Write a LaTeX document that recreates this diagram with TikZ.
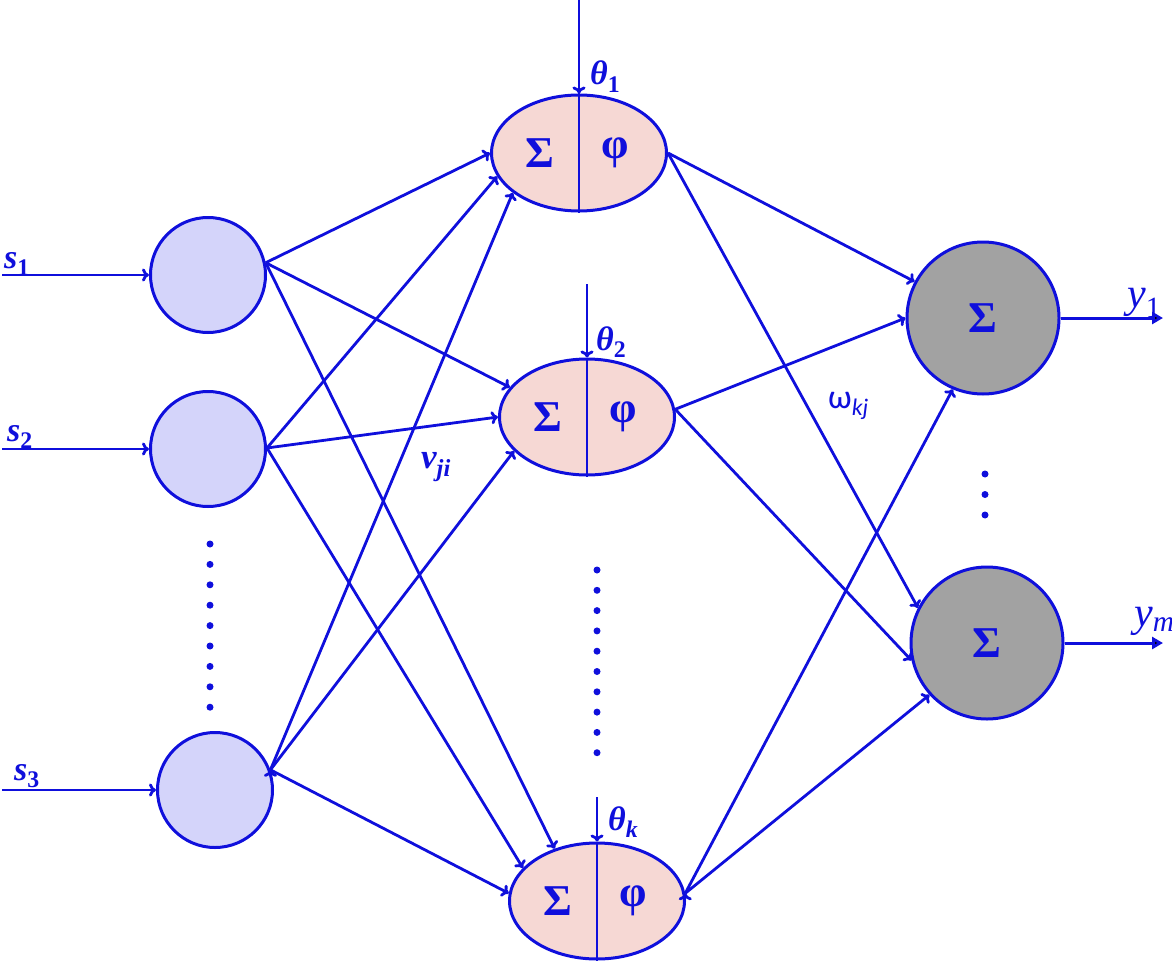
\documentclass[tikz,border=0pt]{standalone}
\usepackage{fontspec}
\setmainfont{Liberation Serif}
\newfontfamily\calfont{Carlito}
\usetikzlibrary{shapes.geometric, arrows.meta, positioning}

\definecolor{netblue}{RGB}{15,15,220}
\definecolor{infill}{RGB}{212,212,250}
\definecolor{hidfill}{RGB}{246,216,212}
\definecolor{outfill}{RGB}{162,162,162}

\tikzset{
	input/.style={circle, draw=netblue, line width=3pt, fill=infill, minimum size=115pt, inner sep=0pt},
	hidden/.style={ellipse, draw=netblue, line width=3pt, fill=hidfill, minimum width=175pt, minimum height=116pt, inner sep=0pt},
	output/.style={circle, draw=netblue, line width=3pt, fill=outfill, minimum size=152pt, inner sep=0pt, text=netblue, font=\fontsize{44}{44}\selectfont\bfseries},
	wire/.style={draw=netblue, line width=2.8pt, -{To[length=7pt,width=13pt]}},
	outwire/.style={draw=netblue, line width=3pt, -{Triangle[length=11pt,width=12pt]}},
	sym/.style={text=netblue, inner sep=0pt, font=\fontsize{44}{44}\selectfont\bfseries},
	lbl/.style={text=netblue, anchor=base west, inner sep=0pt},
}

\begin{document}
\begin{tikzpicture}[x=1pt, y=-1pt]
	\useasboundingbox (0,0) rectangle (1172,963);

	% input layer
	\node[input] (in1) at (208,275) {};
	\node[input] (in2) at (208,449) {};
	\node[input] (in3) at (215,790) {};

	% hidden layer
	\node[hidden] (h1) at (579,153) {};
	\node[hidden] (h2) at (587,417) {};
	\node[hidden] (h3) at (597,901) {};
	\foreach \h in {h1,h2,h3} {
		\draw[netblue, line width=2.8pt] (\h.north) -- (\h.south);
		\node[sym] at ([xshift=-39pt]\h.center) {Σ};
		\node[sym] at ([xshift=36pt]\h.center) {φ};
	}

	% output layer
	\node[output] (o1) at (983,318) {Σ};
	\node[output] (o2) at (987,643) {Σ};

	% dots
	\foreach \i in {0,...,8}
		\fill[netblue] (210,544+20.4*\i) circle (3.5pt);
	\foreach \i in {0,...,9}
		\fill[netblue] (597,570+20.3*\i) circle (3.5pt);
	\foreach \i in {0,...,2}
		\fill[netblue] (985,474+20.5*\i) circle (3.5pt);

	% inputs and thresholds
	\coordinate (s1) at (2,275);
	\coordinate (s2) at (2,449);
	\coordinate (s3) at (2,790);
	\coordinate (th1) at (579,0);
	\coordinate (th2) at (587,284);
	\coordinate (th3) at (597,797);
	\coordinate (y1) at (1163,318);
	\coordinate (ym) at (1163,643);

	\draw[wire] (s1) -- (in1);
	\draw[wire] (s2) -- (in2);
	\draw[wire] (s3) -- (in3);
	\draw[wire] (th1) -- (h1.north);
	\draw[wire] (th2) -- (h2.north);
	\draw[wire] (th3) -- (h3.north);

	% input -> hidden
	\path[wire]
	    (in1.12) edge (h1.180)
	    (in1.12) edge (h2.159)
	    (in1.12) edge (h3.129)
	    (in2.1) edge (h1.196)
	    (in2.1) edge (h2.180)
	    (in2.1) edge (h3.156)
	    (in3.20) edge (h1.211)
	    (in3.20) edge (h2.205)
	    (in3.20) edge (h3.175);

	% hidden -> output
	\path[wire]
	    (h1.east) edge (o1.152)
	    (h1.east) edge (o2.153)
	    (h2.5) edge (o1.180)
	    (h2.5) edge (o2.193)
	    (h3.5) edge (o1.247)
	    (h3.5) edge (o2.222);

	\path[outwire]
	    (o1) edge (y1)
	    (o2) edge (ym);

	% labels
	\node[lbl, font=\fontsize{34}{34}\selectfont\bfseries\itshape] at (4,268) {s\textsubscript{\upshape 1}};
	\node[lbl, font=\fontsize{34}{34}\selectfont\bfseries\itshape] at (7,441) {s\textsubscript{\upshape 2}};
	\node[lbl, font=\fontsize{34}{34}\selectfont\bfseries\itshape] at (14,780) {s\textsubscript{\upshape 3}};
	\node[lbl, font=\fontsize{34}{34}\selectfont\bfseries\itshape] at (590,85) {θ\textsubscript{\upshape 1}};
	\node[lbl, font=\fontsize{34}{34}\selectfont\bfseries\itshape] at (596,350) {θ\textsubscript{\upshape 2}};
	\node[lbl, font=\fontsize{34}{34}\selectfont\bfseries\itshape] at (608,830) {θ\textsubscript{k}};
	\node[lbl, font=\fontsize{35}{35}\selectfont\bfseries\itshape] at (421,468) {v\textsubscript{ji}};
	\node[lbl, font=\fontsize{34}{34}\selectfont\calfont] at (828,408) {ω\textsubscript{\itshape kj}};
	\node[lbl, font=\fontsize{42}{42}\selectfont\itshape] at (1127,307) {y\textsubscript{\upshape 1}};
	\node[lbl, font=\fontsize{42}{42}\selectfont\itshape] at (1134,626) {y\textsubscript{m}};
\end{tikzpicture}
\end{document}
